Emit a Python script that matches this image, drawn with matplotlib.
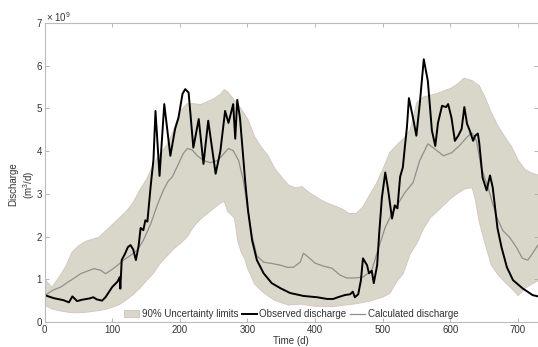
import matplotlib
matplotlib.use("Agg")
import matplotlib.pyplot as plt
from matplotlib.patches import Patch
from matplotlib.lines import Line2D

plt.rcParams['font.family'] = ['Liberation Sans', 'DejaVu Sans']
plt.rcParams['font.size'] = 7
plt.rcParams['mathtext.fontset'] = 'custom'
plt.rcParams['mathtext.rm'] = 'Liberation Sans'
plt.rcParams['mathtext.it'] = 'Liberation Sans:italic'

# values in units of 1e9 m3/d
band_day = [0, 10, 20, 30, 40, 50, 60, 70, 80, 90, 100, 110, 120, 130, 140, 150,
            160, 170, 180, 190, 200, 210, 220, 230, 240, 250, 260, 265, 270, 280,
            285, 290, 295, 300, 310, 320, 330, 340, 350, 360, 370, 380, 390, 400,
            410, 420, 430, 440, 450, 460, 470, 480, 490, 500, 510, 520, 530, 540,
            550, 560, 570, 580, 590, 600, 610, 620, 628, 632, 637, 642, 650, 660,
            670, 680, 690, 700, 710, 720, 730]
band_hi = [1.0, 0.82, 1.05, 1.3, 1.65, 1.8, 1.9, 1.95, 2.0, 2.15, 2.3, 2.45, 2.6,
           2.8, 3.1, 3.35, 3.7, 3.95, 4.15, 4.5, 4.95, 5.12, 5.12, 5.1, 5.17, 5.24,
           5.35, 5.45, 5.4, 5.2, 5.1, 5.0, 4.88, 4.75, 4.35, 4.1, 3.9, 3.6, 3.4,
           3.22, 3.15, 3.18, 3.05, 2.95, 2.85, 2.78, 2.72, 2.65, 2.55, 2.55, 2.7,
           2.98, 3.25, 3.6, 3.98, 4.15, 4.3, 4.5, 5.15, 5.28, 5.32, 5.36, 5.42,
           5.48, 5.58, 5.72, 5.68, 5.66, 5.6, 5.55, 5.3, 4.92, 4.6, 4.35, 4.12,
           3.8, 3.58, 3.5, 3.45]
band_lo = [0.4, 0.32, 0.28, 0.25, 0.23, 0.23, 0.24, 0.26, 0.28, 0.31, 0.36, 0.42,
           0.53, 0.65, 0.8, 0.98, 1.15, 1.38, 1.55, 1.72, 1.85, 2.0, 2.25, 2.42,
           2.55, 2.68, 2.8, 2.84, 2.6, 2.45, 1.91, 1.65, 1.5, 1.25, 0.9, 0.74,
           0.62, 0.52, 0.46, 0.41, 0.42, 0.43, 0.4, 0.38, 0.38, 0.37, 0.38, 0.4,
           0.42, 0.44, 0.47, 0.5, 0.55, 0.6, 0.68, 0.95, 1.15, 1.6, 1.85, 2.2,
           2.45, 2.6, 2.75, 2.9, 3.02, 3.12, 3.15, 3.15, 2.84, 2.38, 1.9, 1.35,
           1.12, 0.95, 0.8, 0.63, 0.8, 0.9, 0.98]

obs_day = [0, 13, 28, 36, 41, 48, 55, 62, 66, 72, 77, 85, 90, 95, 100, 105, 108,
           111, 112, 114, 119, 123, 127, 131, 135, 139, 142, 146, 149, 152, 157,
           161, 164, 170, 177, 186, 193, 198, 204, 208, 213, 220, 228, 235, 242,
           253, 260, 267, 272, 279, 282, 285, 289, 297, 301, 307, 314, 324, 336,
           349, 363, 383, 403, 418, 427, 434, 444, 452, 456, 459, 464, 468, 471,
           477, 480, 484, 487, 492, 495, 499, 504, 508, 514, 518, 522, 526, 530,
           533, 536, 539, 545, 550, 555, 561, 567, 573, 578, 582, 588, 594, 597,
           602, 607, 612, 617, 621, 625, 629, 634, 637, 641, 643, 648, 654, 659,
           663, 670, 676, 684, 693, 707, 722, 730]
obs_val = [0.63, 0.56, 0.51, 0.46, 0.6, 0.49, 0.52, 0.54, 0.55, 0.58, 0.53, 0.5,
           0.58, 0.7, 0.82, 0.9, 0.95, 1.05, 0.78, 1.45, 1.6, 1.75, 1.8, 1.7,
           1.45, 1.78, 2.2, 2.15, 2.38, 2.35, 3.2, 3.8, 4.94, 3.42, 5.1, 3.89,
           4.52, 4.78, 5.34, 5.45, 5.37, 4.08, 4.75, 3.7, 4.71, 3.47, 4.0, 4.94,
           4.66, 5.1, 4.29, 5.2, 4.78, 3.24, 2.6, 1.91, 1.45, 1.14, 0.91, 0.79,
           0.68, 0.61, 0.58, 0.54, 0.54, 0.58, 0.63, 0.65, 0.71, 0.58, 0.65, 0.98,
           1.49, 1.33, 1.14, 1.2, 0.91, 1.33, 2.07, 2.91, 3.5, 3.12, 2.42, 2.73,
           2.66, 3.4, 3.62, 4.1, 4.55, 5.24, 4.78, 4.36, 5.1, 6.15, 5.64, 4.48,
           4.12, 4.66, 5.06, 5.03, 5.1, 4.78, 4.24, 4.36, 4.52, 5.03, 4.64, 4.48,
           4.24, 4.36, 4.41, 4.2, 3.38, 3.08, 3.43, 3.15, 2.2, 1.75, 1.28, 0.98,
           0.79, 0.63, 0.6]

calc_day = [0, 13, 24, 34, 43, 53, 63, 73, 83, 90, 98, 108, 117, 127, 137, 146,
            157, 167, 176, 183, 189, 198, 205, 211, 218, 226, 235, 245, 256, 265,
            272, 279, 287, 294, 301, 307, 314, 324, 336, 349, 359, 368, 378, 383,
            390, 400, 412, 425, 437, 447, 459, 471, 484, 493, 504, 514, 523, 533,
            545, 555, 567, 575, 590, 602, 614, 624, 632, 639, 646, 656, 669, 678,
            688, 698, 707, 715, 722, 730]
calc_val = [0.62, 0.75, 0.82, 0.93, 1.02, 1.13, 1.19, 1.25, 1.21, 1.13, 1.21,
            1.33, 1.45, 1.56, 1.68, 1.91, 2.3, 2.75, 3.1, 3.3, 3.4, 3.7, 3.94,
            4.06, 4.03, 3.89, 3.78, 3.73, 3.78, 3.94, 4.06, 4.01, 3.78, 3.31, 2.6,
            2.0, 1.55, 1.4, 1.37, 1.33, 1.28, 1.28, 1.4, 1.61, 1.52, 1.38, 1.31,
            1.26, 1.1, 1.03, 1.03, 1.05, 1.21, 1.68, 2.22, 2.54, 2.77, 3.03, 3.26,
            3.78, 4.17, 4.08, 3.89, 3.96, 4.13, 4.31, 4.43, 4.24, 3.61, 3.15, 2.45,
            2.14, 1.98, 1.75, 1.49, 1.45, 1.61, 1.8]

fill_c = '#d9d7ca'
edge_c = '#d8c6c0'
calc_c = '#8f8f8f'

fig = plt.figure(figsize=(5.38, 3.47), dpi=100)
ax = fig.add_axes([0.083, 0.072, 0.917, 0.862])

ax.fill_between(band_day, band_lo, band_hi, facecolor=fill_c, edgecolor=edge_c, lw=0.7)
ax.plot(calc_day, calc_val, color=calc_c, lw=0.9)
ax.plot(obs_day, obs_val, color='black', lw=1.4)

ax.set_xlim(0, 730)
ax.set_ylim(0, 7)
ax.set_xticks(range(0, 701, 100))
ax.set_yticks(range(0, 8))
ax.tick_params(direction='in', length=3, width=0.6, color='#aaaaaa',
               labelcolor='#333333', labelsize=7, top=True, right=True, pad=2)
for s in ax.spines.values():
    s.set_color('#bbbbbb')
    s.set_linewidth(0.8)
ax.spines['right'].set_visible(False)

ax.set_xlabel('Time (d)', color='#333333', labelpad=1)
ax.set_ylabel('Discharge\n(m$^3$/d)', color='#333333')
ax.yaxis.set_label_coords(-0.016, 0.46)
ax.text(0.003, 0.998, r'$\times\ 10^{9}$', transform=ax.transAxes, va='bottom',
        ha='left', color='#333333', fontsize=7)

handles = [Patch(facecolor=fill_c, edgecolor=edge_c, lw=0.7),
           Line2D([], [], color='black', lw=1.4),
           Line2D([], [], color=calc_c, lw=0.9)]
labels = ['90% Uncertainty limits', 'Observed discharge', 'Calculated discharge']
ax.legend(handles, labels, loc='lower center', bbox_to_anchor=(0.5, -0.02),
          ncol=3, frameon=False, fontsize=7, handlelength=1.5,
          handletextpad=0.3, columnspacing=0.4, labelcolor='#333333')

fig.savefig('out.png', dpi=100)
